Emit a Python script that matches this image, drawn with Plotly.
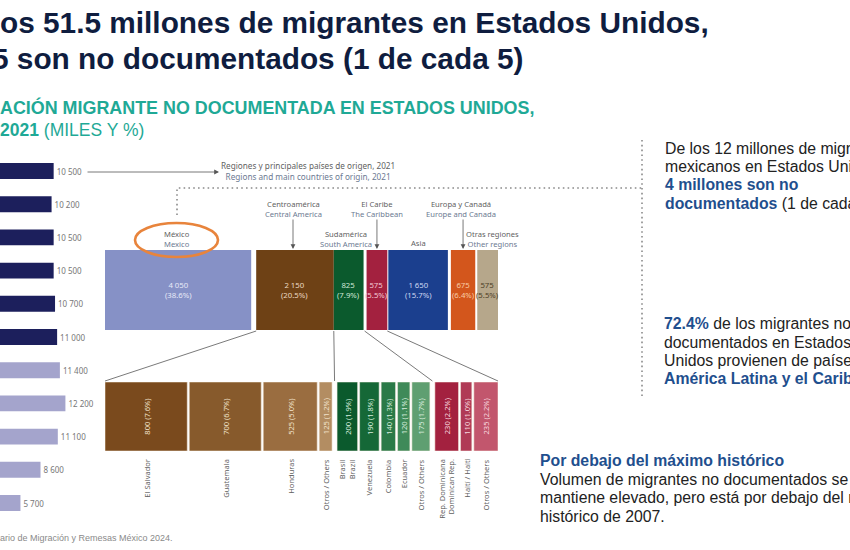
import plotly.graph_objects as go

# ---------------- data ----------------
years = ["2021", "2019", "2018", "2017", "2016", "2015", "2010", "2007", "2005", "2000", "1995"]
undoc_total = [10500, 10200, 10500, 10500, 10700, 11000, 11400, 12200, 11100, 8600, 5700]

region_es = ["México", "Centroamérica", "Sudamérica", "El Caribe", "Asia", "Europa y Canadá", "Otras regiones"]
region_en = ["Mexico", "Central America", "South America", "The Caribbean", "", "Europe and Canada", "Other regions"]
region_val = [4050, 2150, 825, 575, 1650, 675, 575]
region_pct = [38.6, 20.5, 7.9, 5.5, 15.7, 6.4, 5.5]

country_es = ["El Salvador", "Guatemala", "Honduras", "Otros / Others",
              "Brasil", "Venezuela", "Colombia", "Ecuador", "Otros / Others",
              "Rep. Dominicana", "Haití / Haiti", "Otros / Others"]
country_en = ["", "", "", "", "Brazil", "", "", "", "", "Dominican Rep.", "", ""]
country_region = ["Centroamérica"] * 4 + ["Sudamérica"] * 5 + ["El Caribe"] * 3
country_val = [800, 700, 525, 125, 200, 190, 140, 120, 175, 230, 110, 235]
country_pct = [7.6, 6.7, 5.0, 1.2, 1.9, 1.8, 1.3, 1.1, 1.7, 2.2, 1.0, 2.2]

# ---------------- styling ----------------
W, H = 850, 550
SANS = "Liberation Sans, Arial, sans-serif"
SMALL = "Noto Sans, Open Sans, sans-serif"
NAVY = "#0f1d3f"
TEAL = "#1fa996"
BLUE = "#1f4f8e"
GRAY = "#5f5f5f"
ENG = "#6c7a92"

left_colors = ["#1c1f5c"] * 6 + ["#a4a4cc"] * 5
region_colors = ["#8691c6", "#6e4115", "#0b5a2d", "#a3213f", "#1b3f8e", "#d3561c", "#b6a78b"]
region_txt = ["#e6e9f7", "#ecd9c2", "#cfe7d6", "#f3cbd4", "#cdd8f2", "#f8cba4", "#4e3f27"]
country_colors = ["#7a4a1d", "#875a2c", "#9a6d40", "#b38d62",
                  "#0b5a2d", "#156837", "#2a7a48", "#3f8a59", "#5f9f71",
                  "#a3213f", "#b03a56", "#c2566d"]
country_txt = ["#f0e0c8"] * 4 + ["#d6ecdc"] * 5 + ["#f7d5dd"] * 3

def fmt(v):
    return f"{v:,}".replace(",", " ")

def pct(p):
    return f"{p:.1f}%"

def yd(px):  # pixel from top -> paper fraction
    return 1 - px / H

# left bar scale: value 0 at -19 px, 0.00692 px per unit
L_S, L_ZERO = 0.00692, -19.0
L_W = 120.0
left_range = [(0 - L_ZERO) / L_S, (L_W - L_ZERO) / L_S]

# top region boxes
TOP_L, TOP_R = 105.0, 498.0
top_gaps_px = [5, 0, 3, 1, 3, 2]
s_top = (TOP_R - TOP_L - sum(top_gaps_px)) / sum(region_val)
top_centers, top_edges = [], []
u = 0.0
for i, v in enumerate(region_val):
    top_edges.append((u, u + v))
    top_centers.append(u + v / 2)
    u += v
    if i < len(top_gaps_px):
        u += top_gaps_px[i] / s_top
top_total = u
def top_px(u):
    return TOP_L + u * s_top

# bottom country boxes
BOT_L, BOT_R = 105.0, 498.0
IN_GAP, GRP_GAP = 2.0, 5.0
n_gap_in = sum(1 for i in range(1, len(country_val)) if country_region[i] == country_region[i - 1])
n_gap_grp = len(country_val) - 1 - n_gap_in
s_bot = (BOT_R - BOT_L - n_gap_in * IN_GAP - n_gap_grp * GRP_GAP) / sum(country_val)
bot_centers, bot_edges = [], []
u = 0.0
for i, v in enumerate(country_val):
    if i > 0:
        u += (IN_GAP if country_region[i] == country_region[i - 1] else GRP_GAP) / s_bot
    bot_edges.append((u, u + v))
    bot_centers.append(u + v / 2)
    u += v
bot_total = u
def bot_px(u):
    return BOT_L + u * s_bot

TOP_Y0, TOP_Y1 = 250, 330
BOT_Y0, BOT_Y1 = 382, 451

fig = go.Figure()

# invisible trace for pixel-space axis
fig.add_trace(go.Scatter(x=[0], y=[0], mode="markers", marker=dict(opacity=0),
                         hoverinfo="skip", showlegend=False, xaxis="x", yaxis="y"))

# left bars
fig.add_trace(go.Bar(
    y=years, x=undoc_total, orientation="h", marker=dict(color=left_colors, line_width=0),
    text=[fmt(v) for v in undoc_total], textposition="outside",
    textfont=dict(size=8, color="#777777", family=SMALL), cliponaxis=False,
    xaxis="x2", yaxis="y2", hoverinfo="skip", showlegend=False))

# top region boxes
fig.add_trace(go.Bar(
    x=top_centers, y=[1] * len(region_val), width=region_val, base=0,
    marker=dict(color=region_colors, line_width=0),
    xaxis="x3", yaxis="y3", hoverinfo="skip", showlegend=False))

# bottom country boxes
fig.add_trace(go.Bar(
    x=bot_centers, y=[1] * len(country_val), width=country_val, base=0,
    marker=dict(color=country_colors, line=dict(color="rgba(245,235,220,0.7)", width=0.8)),
    xaxis="x4", yaxis="y4", hoverinfo="skip", showlegend=False))

ann = []
def A(x, y, text, size=8, color=GRAY, family=SMALL, xanchor="center", yanchor="middle",
      angle=0, align="center", **kw):
    ann.append(dict(x=x, y=y, xref="x", yref="y", text=text, showarrow=False,
                    font=dict(size=size, color=color, family=family),
                    xanchor=xanchor, yanchor=yanchor, textangle=angle, align=align, **kw))

def arrow(x0, y0, x1, y1, color="#555555"):
    ann.append(dict(x=x1, y=y1, ax=x0, ay=y0, xref="x", yref="y", axref="x", ayref="y",
                    text="", showarrow=True, arrowhead=2, arrowsize=1.2, arrowwidth=0.8,
                    arrowcolor=color, standoff=0, startstandoff=0))

def two(es, en):
    return (f"<span style='color:{GRAY}'>{es}</span><br>"
            f"<span style='color:{ENG}'>{en}</span>")

# titles (cut at the left edge, as in the reference)
A(0, 22, "<b>os 51.5 millones de migrantes en Estados Unidos,</b>", size=29.8, color=NAVY,
  family=SANS, xanchor="left", xshift=-2)
A(0, 58, "<b>5 son no documentados (1 de cada 5)</b>", size=29.8, color=NAVY,
  family=SANS, xanchor="left", xshift=-10)
A(0, 107, "<b>ACIÓN MIGRANTE NO DOCUMENTADA EN ESTADOS UNIDOS,</b>", size=17.9, color=TEAL,
  family=SANS, xanchor="left", xshift=-2)
A(0, 130, "<b>2021</b> (MILES Y %)", size=17.5, color=TEAL, family=SANS, xanchor="left",
  xshift=-2)

# regions header
arrow(86, 172, 219, 172)
A(308, 170.5, two("Regiones y principales países de origen, 2021",
                  "Regions and main countries of origin, 2021"), size=8.2)

# region labels
region_label_pos = [(177, 238.5), (293, 208.5), (346, 238.5), (377, 208.5), (418, 243),
                    (461, 208.5), (492, 238.5)]
for i, (lx, ly) in enumerate(region_label_pos):
    if region_en[i]:
        A(lx, ly, two(region_es[i], region_en[i]), size=7.6)
    else:
        A(lx, ly, region_es[i], size=7.6, color=GRAY)

# arrows from top labels to boxes
for i in (1, 3, 5):
    cx = top_px(top_centers[i]) if i != 1 else region_label_pos[1][0]
    arrow(cx, 218, cx, TOP_Y0 - 1)

# values in top boxes
for i, v in enumerate(region_val):
    cx = top_px(top_centers[i])
    A(cx, 289.5, f"{fmt(v)}<br>({pct(region_pct[i])})", size=7.8, color=region_txt[i])

# values in bottom boxes + labels below
for i, v in enumerate(country_val):
    cx = bot_px(bot_centers[i])
    A(cx, (BOT_Y0 + BOT_Y1) / 2, f"{fmt(v)} ({pct(country_pct[i])})", size=7.5,
      color=country_txt[i], angle=-90)
    lab = country_es[i] + ("<br>" + country_en[i] if country_en[i] else "")
    A(cx, 457, lab, size=7.5, color=GRAY, angle=-90, yanchor="top", align="right")

# right text
def R(x, y, text, size=15.8):
    A(x, y, text, size=size, color="#222222", family=SANS, xanchor="left")

R(663, 148, "De los 12 millones de migr")
R(663, 166, "mexicanos en Estados Uni")
R(663, 184, f"<b><span style='color:{BLUE}'>4 millones son no</span></b>")
R(663, 203, f"<b><span style='color:{BLUE}'>documentados</span></b> (1 de cada")

R(662, 323, f"<b><span style='color:{BLUE}'>72.4%</span></b> de los migrantes no")
R(662, 342, "documentados en Estados")
R(662, 360, "Unidos provienen de paíse")
R(662, 378, f"<b><span style='color:{BLUE}'>América Latina y el Carib</span></b>")

R(538, 460, f"<b><span style='color:{BLUE}'>Por debajo del máximo histórico</span></b>")
R(538, 479, "Volumen de migrantes no documentados se")
R(538, 497, "mantiene elevado, pero está por debajo del r")
R(538, 516, "histórico de 2007.")

A(0, 538, "ario de Migración y Remesas México 2024.", size=9, color="#8a8a8a",
  family=SANS, xanchor="left", xshift=-2)

# shapes
shapes = []
DOT = dict(color="#8a8a8a", width=1.6, dash="1.6px,3.2px")
shapes.append(dict(type="path", xref="x", yref="y",
                   path="M 177 215 L 177 188 L 642 188", line=DOT))
shapes.append(dict(type="line", xref="x", yref="y", x0=642, y0=140, x1=642, y1=397, line=DOT))
shapes.append(dict(type="circle", xref="x", yref="y", x0=135, x1=218, y0=223, y1=257,
                   line=dict(color="#e8843c", width=2.6)))

# connectors from region boxes to country groups
conn = [
    (top_px(top_edges[1][0]), bot_px(bot_edges[0][0])),
    (top_px(top_edges[1][1]), (bot_px(bot_edges[3][1]) + bot_px(bot_edges[4][0])) / 2),
    (top_px(top_edges[2][1]) + 1, (bot_px(bot_edges[8][1]) + bot_px(bot_edges[9][0])) / 2),
    (top_px(top_edges[3][1]), bot_px(bot_edges[11][1])),
]
for tx, bx in conn:
    shapes.append(dict(type="line", xref="x", yref="y", x0=tx, y0=TOP_Y1 + 1, x1=bx, y1=BOT_Y0 - 1,
                       line=dict(color="#7a7a7a", width=1)))

fig.update_layout(
    width=W, height=H, margin=dict(l=0, r=0, t=0, b=0),
    paper_bgcolor="white", plot_bgcolor="rgba(0,0,0,0)",
    showlegend=False, bargap=0.52,
    xaxis=dict(domain=[0, 1], range=[0, W], visible=False, fixedrange=True),
    yaxis=dict(domain=[0, 1], range=[H, 0], visible=False, fixedrange=True),
    xaxis2=dict(domain=[0, L_W / W], range=left_range, visible=False, anchor="y2"),
    yaxis2=dict(domain=[yd(519.6), yd(154.4)], type="category", categoryorder="array",
                categoryarray=years, range=[10.5, -0.5], visible=False, anchor="x2"),
    xaxis3=dict(domain=[TOP_L / W, TOP_R / W], range=[0, top_total], visible=False, anchor="y3"),
    yaxis3=dict(domain=[yd(TOP_Y1), yd(TOP_Y0)], range=[0, 1], visible=False, anchor="x3"),
    xaxis4=dict(domain=[BOT_L / W, BOT_R / W], range=[0, bot_total], visible=False, anchor="y4"),
    yaxis4=dict(domain=[yd(BOT_Y1), yd(BOT_Y0)], range=[0, 1], visible=False, anchor="x4"),
    annotations=ann, shapes=shapes,
)

fig.write_html("out.html", config={"displayModeBar": False},
               post_script="document.body.style.margin='0px';")
